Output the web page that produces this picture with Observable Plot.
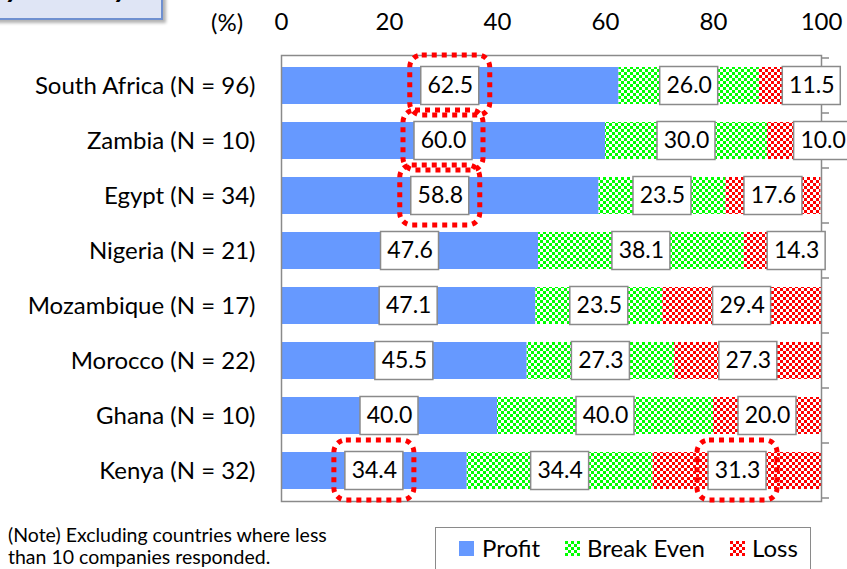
<!DOCTYPE html>
<html><head><meta charset="utf-8">
<script src="https://cdn.jsdelivr.net/npm/d3@7"></script>
<script src="https://cdn.jsdelivr.net/npm/@observablehq/plot@0.6"></script>
<style>
body{margin:0;background:#fff;font-family:Lato,"Open Sans",sans-serif;}
#wrap{position:relative;width:847px;height:569px;overflow:hidden;background:#fff;}
#title{position:absolute;left:-24px;top:-36px;width:173px;height:46px;background:#dfe5f5;border:2px solid #6f90d0;box-shadow:3px 3px 3px rgba(0,0,0,0.3);font:italic bold 30px Lato;line-height:36px;padding-top:0px;padding-bottom:6px;box-sizing:content-box;padding-left:10px;}
#title span{position:relative;top:1px;}
#pct{position:absolute;left:211px;top:7px;font-size:24px;line-height:29px;}
#chart{position:absolute;left:0;top:0;}
#note{position:absolute;left:8px;top:524px;font-size:19.5px;line-height:22px;}
#legend{position:absolute;left:435px;top:527px;width:376px;height:60px;border:1.5px solid #8a8a8a;box-sizing:border-box;font-size:24px;}
#legend .sw{position:absolute;top:13px;width:15px;height:15px;}
#legend .lt{position:absolute;top:6px;line-height:28px;}
</style></head><body>
<div id="wrap">
 <svg width="0" height="0" style="position:absolute">
  <defs>
   <pattern id="pg" width="6" height="6" patternUnits="userSpaceOnUse">
    <rect width="6" height="6" fill="#fff"/><rect width="3" height="3" fill="#00ff00"/><rect x="3" y="3" width="3" height="3" fill="#00ff00"/>
   </pattern>
   <pattern id="pr" width="6" height="6" patternUnits="userSpaceOnUse">
    <rect width="6" height="6" fill="#fff"/><rect width="3" height="3" fill="#ff0000"/><rect x="3" y="3" width="3" height="3" fill="#ff0000"/>
   </pattern>
  </defs>
 </svg>
 <div id="chart"></div>
 <div id="title"><span>By Country</span></div>
 <div id="pct">(%)</div>
 <div id="note">(Note) Excluding countries where less<br>than 10 companies responded.</div>
 <div id="legend"></div>
</div>
<script>
const countries = ["South Africa (N = 96)","Zambia (N = 10)","Egypt (N = 34)","Nigeria (N = 21)","Mozambique (N = 17)","Morocco (N = 22)","Ghana (N = 10)","Kenya (N = 32)"];
const profit    = [62.5, 60.0, 58.8, 47.6, 47.1, 45.5, 40.0, 34.4];
const breakEven = [26.0, 30.0, 23.5, 38.1, 23.5, 27.3, 40.0, 34.4];
const loss      = [11.5, 10.0, 17.6, 14.3, 29.4, 27.3, 20.0, 31.3];
const categories = ["Profit","Break Even","Loss"];
const xTicks = [0, 20, 40, 60, 80, 100];

// label positions moved by hand in the original (value-axis units)
const labelMoved = {"South Africa (N = 96)|Loss": 98.2, "Zambia (N = 10)|Loss": 100.3, "Nigeria (N = 21)|Loss": 95.4};
// labels circled in red
const circled = [["South Africa (N = 96)","Profit"],["Zambia (N = 10)","Profit"],["Egypt (N = 34)","Profit"],["Kenya (N = 32)","Profit"],["Kenya (N = 32)","Loss"]];

const fills = {"Profit":"#6699ff","Break Even":"url(#pg)","Loss":"url(#pr)"};
const series = [profit, breakEven, loss];

const rows = [];
countries.forEach((c, i) => {
  let s = 0;
  categories.forEach((cat, j) => {
    const v = series[j][i];
    const key = c + "|" + cat;
    rows.push({country: c, category: cat, value: v, start: s, end: s + v,
               lx: labelMoved[key] !== undefined ? labelMoved[key] : s + v / 2,
               label: v.toFixed(1)});
    s += v;
  });
});
const circ = rows.filter(r => circled.some(([c, k]) => c === r.country && k === r.category));

function rightTicks(index, scales, values, dims) {
  const y = scales.y;
  const g = d3.create("svg:g");
  const step = y.step ? y.step() : (dims.height - dims.marginTop - dims.marginBottom) / countries.length;
  const bw = y.bandwidth ? y.bandwidth() : step * 0.665;
  const xr = dims.width - dims.marginRight;
  const bounds = countries.map(c => y(c) + bw / 2 - step / 2);
  bounds.push(y(countries[countries.length - 1]) + bw / 2 + step / 2);
  g.selectAll("line").data(bounds).join("line")
    .attr("x1", xr).attr("x2", xr + 8).attr("y1", d => d).attr("y2", d => d)
    .attr("stroke", "#8a8a8a").attr("stroke-width", 1.5);
  return g.node();
}

const chart = Plot.plot({
  width: 847, height: 515,
  marginLeft: 281, marginRight: 26, marginTop: 55, marginBottom: 14,
  style: {fontFamily: "Lato, sans-serif", fontSize: "24px", color: "#000", background: "transparent", overflow: "visible"},
  x: {domain: [0, 100], axis: null},
  y: {domain: countries, paddingInner: 0.335, paddingOuter: 0.1675, axis: null},
  color: {domain: categories, range: categories.map(c => fills[c])},
  marks: [
    Plot.barX(rows, {y: "country", x1: "start", x2: "end", fill: "category"}),
    Plot.frame({stroke: "#8a8a8a", strokeWidth: 1.5}),
    rightTicks,
    Plot.barX(rows, {y: "country", x1: "lx", x2: "lx", insetLeft: -29, insetRight: -29, insetTop: -0.5, insetBottom: -0.5, fill: "white", stroke: "#8a8a8a", strokeWidth: 1.5}),
    Plot.text(rows, {y: "country", x: "lx", text: "label", fontSize: 23, fill: "#000"}),
    Plot.barX(circ, {y: "country", x1: "lx", x2: "lx", insetLeft: -40, insetRight: -40, insetTop: -12, insetBottom: -11, rx: 12, fill: "none", stroke: "#ff0000", strokeWidth: 5, strokeDasharray: "5,5"}),
    Plot.axisX({anchor: "top", ticks: xTicks, tickSize: 0, tickPadding: 26, fontSize: 24, label: null, tickFormat: d => d}),
    Plot.axisY({anchor: "left", tickSize: 0, tickPadding: 26, fontSize: 24, label: null})
  ]
});
document.getElementById("chart").appendChild(chart);

// legend
const leg = document.getElementById("legend");
const items = [["Profit", 23, 46], ["Break Even", 129, 151], ["Loss", 294, 316]];
items.forEach(([cat, sx, tx]) => {
  const sw = document.createElementNS("http://www.w3.org/2000/svg", "svg");
  sw.setAttribute("class", "sw"); sw.setAttribute("width", 15); sw.setAttribute("height", 15);
  sw.style.left = sx + "px";
  const r = document.createElementNS("http://www.w3.org/2000/svg", "rect");
  r.setAttribute("width", 15); r.setAttribute("height", 15); r.setAttribute("fill", fills[cat]);
  sw.appendChild(r); leg.appendChild(sw);
  const t = document.createElement("span"); t.className = "lt"; t.style.left = tx + "px"; t.textContent = cat;
  leg.appendChild(t);
});
</script>
</body></html>
